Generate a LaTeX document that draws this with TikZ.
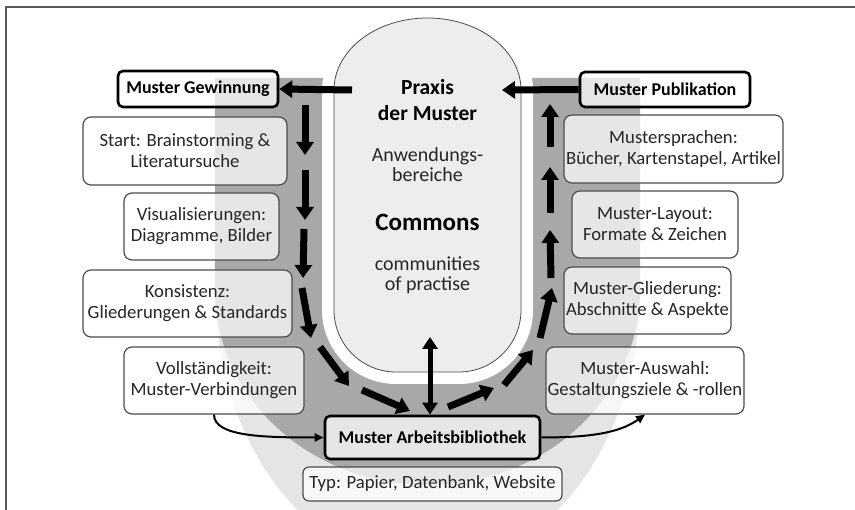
\documentclass[tikz,border=0pt]{standalone}
\usepackage{fontspec}
\setmainfont{Carlito}
\usetikzlibrary{arrows.meta}

\definecolor{banddark}{gray}{0.66}
\definecolor{bandlight}{gray}{0.90}
\definecolor{praxisfill}{gray}{0.93}

\begin{document}
\begin{tikzpicture}[x=1pt, y=1pt,
	stepbox/.style={draw=black!70, line width=1.2pt, rounded corners=8pt, fill=white, fill opacity=0.72, text opacity=1, text=black!85, font=\fontsize{18.7}{21}\selectfont, align=center, inner sep=0pt},
	phasebox/.style={stepbox, draw=black, line width=2.6pt, rounded corners=5pt, text=black, font=\bfseries\fontsize{18}{21}\selectfont},
	fatarrow/.style={line width=7pt, -{Triangle[length=13pt, width=17pt]}},
	linkarrow/.style={line width=2pt, -{Triangle[length=9pt, width=8pt]}}]

\def\width{855}
\def\height{510}
\def\ox{427.5}

\path [use as bounding box] (0,0) rectangle (\width,-\height);

% BAND
\begin{scope}
\clip (0,0) rectangle (\width,-\height);
\fill [bandlight] (215,-78) -- (215,-290) arc[start angle=180, end angle=360, x radius=212.5, y radius=278] -- (640,-78) -- cycle;
\fill [banddark] (215,-78) -- (215,-290) arc[start angle=180, end angle=360, x radius=212.5, y radius=195] -- (640,-78) -- cycle;
\fill [white] (322,-90) arc[start angle=180, end angle=0, x radius=105.5, y radius=84] -- (533,-310) arc[start angle=0, end angle=-90, radius=74] -- (396,-384) arc[start angle=270, end angle=180, radius=74] -- cycle;
\end{scope}

% FRAME
\draw [line width=1.5pt, black!65] (6,-\height) -- (6,-7) -- (\width,-7);

% PRAXIS
\draw [line width=0.8pt, draw=black!70, fill=praxisfill] (334,-90) arc[start angle=180, end angle=0, x radius=93.5, y radius=72] -- (521,-310) arc[start angle=0, end angle=-90, radius=62] -- (396,-372) arc[start angle=270, end angle=180, radius=62] -- cycle;
\node (praxis) [font=\bfseries\fontsize{21.5}{26}\selectfont, align=center] at (\ox,-100) {Praxis\\der Muster};
\node (bereiche) [font=\fontsize{20}{20}\selectfont, align=center, text=black!85] at (\ox,-165) {Anwendungs-\\bereiche};
\node (commons) [font=\bfseries\fontsize{25}{30}\selectfont] at (\ox,-222) {Commons};
\node (communities) [font=\fontsize{20}{20}\selectfont, align=center, text=black!85] at (\ox,-275) {communities\\of practise};
\coordinate (cleft) at (352,-90);
\coordinate (cright) at (502,-90);
\coordinate (cbot) at (430,-337);

% BOXES LEFT
\node (gewinnung) [phasebox, minimum width=160pt, minimum height=36pt] at (198,-89) {Muster Gewinnung};
\node (start) [stepbox, minimum width=204pt, minimum height=68pt] at (185,-151) {Start: Brainstorming \&\\Literatursuche};
\node (visual) [stepbox, minimum width=155pt, minimum height=67pt] at (201.5,-226.5) {Visualisierungen:\\Diagramme, Bilder};
\node (konsistenz) [stepbox, minimum width=209pt, minimum height=67pt] at (187.5,-303.5) {Konsistenz:\\Gliederungen \& Standards};
\node (vollst) [stepbox, minimum width=180pt, minimum height=67pt] at (214,-380.5) {Vollständigkeit:\\Muster-Verbindungen};

% BOXES RIGHT
\node (publikation) [phasebox, minimum width=170pt, minimum height=35pt] at (665,-89.5) {Muster Publikation};
\node (sprachen) [stepbox, minimum width=219pt, minimum height=68pt] at (673.5,-149) {Mustersprachen:\\Bücher, Kartenstapel, Artikel};
\node (layout) [stepbox, minimum width=166pt, minimum height=67pt] at (655,-224.5) {Muster-Layout:\\Formate \& Zeichen};
\node (gliederung) [stepbox, minimum width=167pt, minimum height=67pt] at (647.5,-300.5) {Muster-Gliederung:\\Abschnitte \& Aspekte};
\node (auswahl) [stepbox, minimum width=198pt, minimum height=67pt] at (645,-380.5) {Muster-Auswahl:\\Gestaltungsziele \& -rollen};

% BOXES BOTTOM
\node (arbeit) [phasebox, minimum width=215pt, minimum height=43pt] at (432.5,-437.5) {Muster Arbeitsbibliothek};
\node (typ) [stepbox, rounded corners=6pt, minimum width=259pt, minimum height=34pt] at (432.5,-484) {Typ: Papier, Datenbank, Website};

% FLOW DOWN
\coordinate (l1s) at (305,-105); \coordinate (l1e) at (305,-155);
\coordinate (l2s) at (305,-170); \coordinate (l2e) at (305,-220);
\coordinate (l3s) at (304,-229); \coordinate (l3e) at (303,-278);
\coordinate (l4s) at (302,-288); \coordinate (l4e) at (311,-338);
\coordinate (l5s) at (320,-347); \coordinate (l5e) at (349,-386);
\coordinate (l6s) at (362,-390); \coordinate (l6e) at (410,-411);
\foreach \i in {1,...,6}
	\draw [fatarrow] (l\i s) -- (l\i e);

% FLOW UP
\coordinate (r1s) at (448,-407); \coordinate (r1e) at (494,-388);
\coordinate (r2s) at (504,-385); \coordinate (r2e) at (533,-350);
\coordinate (r3s) at (540,-338); \coordinate (r3e) at (552,-288);
\coordinate (r4s) at (551,-278); \coordinate (r4e) at (550,-230);
\coordinate (r5s) at (550,-213); \coordinate (r5e) at (550,-167);
\coordinate (r6s) at (550,-147); \coordinate (r6e) at (550,-104);
\foreach \i in {1,...,6}
	\draw [fatarrow] (r\i s) -- (r\i e);

% LINKS
\draw [fatarrow] (cleft) -- (gewinnung.east);
\draw [fatarrow] (publikation.west) -- (cright);
\draw [line width=5pt, {Triangle[length=12pt, width=15pt]}-{Triangle[length=12pt, width=15pt]}] (cbot) -- (cbot |- arbeit.north);
\draw [linkarrow] (vollst.south) .. controls +(0,-22) and +(-60,0) .. (arbeit.west);
\draw [linkarrow] (arbeit.east) .. controls +(50,0) and +(-25,-18) .. (auswahl.south);

\end{tikzpicture}
\end{document}
